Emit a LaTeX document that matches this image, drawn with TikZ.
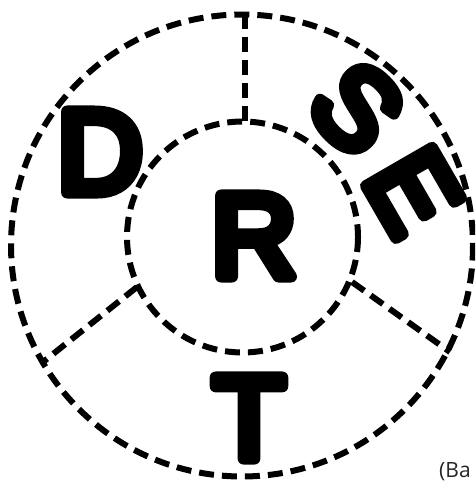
\documentclass[tikz,border=0pt]{standalone}
\usepackage{fontspec}
\newfontfamily\bigfont[FakeBold=10]{Liberation Sans}
\newfontfamily\notefont{Open Sans}
\begin{document}
\begin{tikzpicture}[x=1pt,y=-1pt,
  dl/.style={line width=6pt, dash pattern=on 15pt off 8pt},
  letter/.style={font=\bigfont\fontsize{118}{118}\selectfont, inner sep=0pt, line join=round},
  smallletter/.style={font=\bigfont\fontsize{112}{112}\selectfont, inner sep=0pt, line join=round}]
\useasboundingbox (0,0) rectangle (475,481);
\clip (0,0) rectangle (475,481);
\coordinate (oc) at (242,245.5);
\coordinate (ic) at (242.5,237);
\coordinate (top1) at (245,14);
\coordinate (top2) at (245,122);
\coordinate (ll1) at (137,287);
\coordinate (ll2) at (43,362);
\coordinate (lr1) at (352,282);
\coordinate (lr2) at (450,352);
\draw[dl] (oc) circle[radius=231];
\draw[dl] (ic) circle[radius=115.5];
\draw[dl] (top1) -- (top2);
\draw[dl] (ll1) -- (ll2);
\draw[dl] (lr1) -- (lr2);
\begin{scope}[line join=round]
\node[letter] (D) at (100,152) {D};
\node[letter] (R) at (254,236) {R};
\node[letter] (T) at (249,418) {T};
\node[smallletter, rotate=-45] (S) at (357,108) {S};
\node[smallletter, rotate=-60] (E) at (413,191) {E};
\end{scope}
\node[font=\notefont\fontsize{21}{21}\selectfont, anchor=base west, inner sep=0pt, text=black!85] (note) at (439,477) {(Ba};
\end{tikzpicture}
\end{document}
